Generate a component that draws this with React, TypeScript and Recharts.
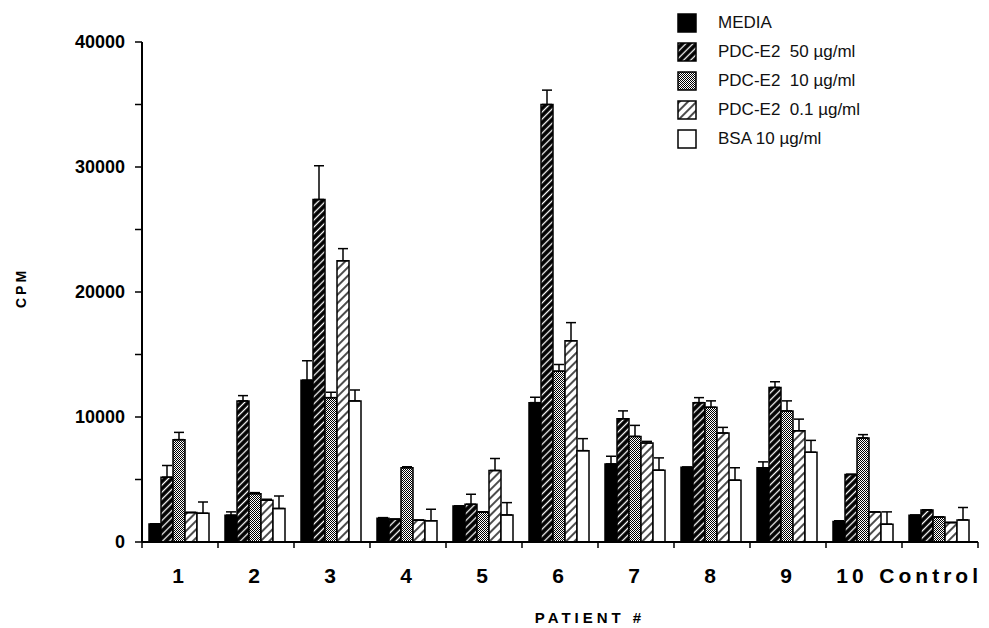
import React from 'react'
import { BarChart, Bar, XAxis, YAxis, Legend, ErrorBar } from 'recharts'

const patients = ['1', '2', '3', '4', '5', '6', '7', '8', '9', '10', 'Control']

const media = [1450, 2150, 12950, 1900, 2880, 11150, 6250, 5990, 5940, 1640, 2150]
const mediaErr = [0, 260, 1550, 50, 0, 430, 610, 0, 470, 60, 0]

const pdc50 = [5190, 11290, 27400, 1830, 3020, 35000, 9860, 11150, 12370, 5410, 2570]
const pdc50Err = [930, 420, 2700, 0, 800, 1150, 630, 400, 450, 0, 0]

const pdc10 = [8190, 3870, 11550, 5940, 2410, 13670, 8450, 10780, 10490, 8320, 2010]
const pdc10Err = [580, 80, 430, 80, 0, 530, 880, 510, 800, 270, 0]

const pdc01 = [2360, 3340, 22500, 1750, 5720, 16100, 7920, 8720, 8900, 2410, 1560]
const pdc01Err = [0, 80, 970, 0, 960, 1450, 130, 450, 930, 0, 0]

const bsa = [2300, 2680, 11290, 1700, 2170, 7310, 5750, 4950, 7180, 1430, 1770]
const bsaErr = [900, 1000, 870, 920, 980, 960, 980, 990, 950, 980, 990]

const yTicks = [0, 5000, 10000, 15000, 20000, 25000, 30000, 35000, 40000]

const seriesOrder = ['media', 'pdc50', 'pdc10', 'pdc01', 'bsa']

const data = patients.map((p, i) => ({
  patient: p,
  media: media[i],
  mediaErr: [0, mediaErr[i]],
  pdc50: pdc50[i],
  pdc50Err: [0, pdc50Err[i]],
  pdc10: pdc10[i],
  pdc10Err: [0, pdc10Err[i]],
  pdc01: pdc01[i],
  pdc01Err: [0, pdc01Err[i]],
  bsa: bsa[i],
  bsaErr: [0, bsaErr[i]],
}))

const FONT = '"Liberation Sans", Arial, Helvetica, sans-serif'

// category ticks sit on the group boundaries, labels in the middle
function XTick(props: any) {
  const { x, y, payload, index } = props
  const half = payload.offset || 38
  const left = x - half
  const last = index === patients.length - 1
  let tx = x
  let anchor: 'middle' | 'end' = 'middle'
  if (last) {
    tx = x + half + 4
    anchor = 'end'
  } else if (index === patients.length - 2) {
    tx = x - 12
  }
  return (
    <g>
      <line x1={left} y1={y} x2={left} y2={y + 6} stroke="#000" strokeWidth={1.5} />
      {last && <line x1={x + half} y1={y} x2={x + half} y2={y + 6} stroke="#000" strokeWidth={1.5} />}
      <text
        x={tx}
        y={y + 41}
        textAnchor={anchor}
        fontFamily={FONT}
        fontWeight="bold"
        fontSize={21}
        letterSpacing={4}
        fill="#000"
      >
        {payload.value}
      </text>
    </g>
  )
}

function PatientLabel(props: any) {
  const { viewBox } = props
  return (
    <text
      x={590}
      y={viewBox.y + 81}
      textAnchor="middle"
      fontFamily={FONT}
      fontWeight="bold"
      fontSize={15}
      letterSpacing={4}
      fill="#000"
    >
      PATIENT #
    </text>
  )
}

function CpmLabel(props: any) {
  const { viewBox } = props
  const cy = viewBox.y + viewBox.height / 2 - 4
  return (
    <text
      x={26}
      y={cy}
      transform={`rotate(-90, 26, ${cy})`}
      textAnchor="middle"
      fontFamily={FONT}
      fontWeight="bold"
      fontSize={14}
      letterSpacing={3}
      fill="#000"
    >
      CPM
    </text>
  )
}

function LegendBox(props: any) {
  const { payload } = props
  return (
    <div style={{ fontFamily: FONT, fontSize: 17, color: '#111' }}>
      {(payload || []).map((entry: any) => (
        <div key={entry.value} style={{ display: 'flex', alignItems: 'center', height: 29 }}>
          <svg width={20} height={20} style={{ marginRight: 21 }}>
            <rect x={1} y={1} width={18} height={18} fill={entry.color} stroke="#000" strokeWidth={1.5} />
          </svg>
          <span style={{ whiteSpace: 'pre' }}>{entry.value}</span>
        </div>
      ))}
    </div>
  )
}

export default function App() {
  return (
    <div style={{ position: 'absolute', left: 0, top: 0, width: 989, height: 628, background: '#fff' }}>
      <BarChart
        width={989}
        height={628}
        data={data}
        margin={{ top: 42, right: 11, left: 0, bottom: 0 }}
        barCategoryGap={7}
        barGap={0}
      >
        <defs>
          <pattern id="hatchDark" patternUnits="userSpaceOnUse" width={5} height={5} patternTransform="rotate(45)">
            <rect width={5} height={5} fill="#000" />
            <line x1={2.5} y1={0} x2={2.5} y2={5} stroke="#fff" strokeWidth={1.3} />
          </pattern>
          <pattern id="dots" patternUnits="userSpaceOnUse" width={2} height={2}>
            <rect width={2} height={2} fill="#fff" />
            <rect x={0} y={0} width={1} height={1} fill="#000" />
            <rect x={1} y={1} width={1} height={1} fill="#000" />
          </pattern>
          <pattern id="hatchLight" patternUnits="userSpaceOnUse" width={6} height={6} patternTransform="rotate(45)">
            <rect width={6} height={6} fill="#fff" />
            <line x1={3} y1={0} x2={3} y2={6} stroke="#000" strokeWidth={1.4} />
          </pattern>
        </defs>
        <XAxis
          dataKey="patient"
          height={86}
          axisLine={{ stroke: '#000', strokeWidth: 2 }}
          tickLine={false}
          tickSize={0}
          tickMargin={0}
          interval={0}
          tick={<XTick />}
          label={{ content: <PatientLabel /> }}
        />
        <YAxis
          width={142}
          domain={[0, 40000]}
          ticks={yTicks}
          interval={0}
          axisLine={{ stroke: '#000', strokeWidth: 2 }}
          tickLine={{ stroke: '#000', strokeWidth: 1.5 }}
          tickSize={7}
          tickMargin={10}
          tickFormatter={(v: number) => (v % 10000 === 0 ? String(v) : '')}
          tick={{ fill: '#000', fontFamily: FONT, fontWeight: 'bold', fontSize: 18 }}
          label={{ content: <CpmLabel /> }}
        />
        <Legend
          layout="vertical"
          verticalAlign="middle"
          align="center"
          itemSorter={(e: any) => seriesOrder.indexOf(e.dataKey)}
          content={<LegendBox />}
          wrapperStyle={{ top: 8, left: 677, width: 300 }}
        />
        <Bar dataKey="media" name="MEDIA" fill="#000" stroke="#000" strokeWidth={1.5} isAnimationActive={false}>
          <ErrorBar dataKey="mediaErr" width={5} stroke="#000" strokeWidth={1.5} direction="y" />
        </Bar>
        <Bar dataKey="pdc50" name="PDC-E2  50 µg/ml" fill="url(#hatchDark)" stroke="#000" strokeWidth={1.5} isAnimationActive={false}>
          <ErrorBar dataKey="pdc50Err" width={5} stroke="#000" strokeWidth={1.5} direction="y" />
        </Bar>
        <Bar dataKey="pdc10" name="PDC-E2  10 µg/ml" fill="url(#dots)" stroke="#000" strokeWidth={1.5} isAnimationActive={false}>
          <ErrorBar dataKey="pdc10Err" width={5} stroke="#000" strokeWidth={1.5} direction="y" />
        </Bar>
        <Bar dataKey="pdc01" name="PDC-E2  0.1 µg/ml" fill="url(#hatchLight)" stroke="#000" strokeWidth={1.5} isAnimationActive={false}>
          <ErrorBar dataKey="pdc01Err" width={5} stroke="#000" strokeWidth={1.5} direction="y" />
        </Bar>
        <Bar dataKey="bsa" name="BSA 10 µg/ml" fill="#fff" stroke="#000" strokeWidth={1.5} isAnimationActive={false}>
          <ErrorBar dataKey="bsaErr" width={5} stroke="#000" strokeWidth={1.5} direction="y" />
        </Bar>
      </BarChart>
    </div>
  )
}
